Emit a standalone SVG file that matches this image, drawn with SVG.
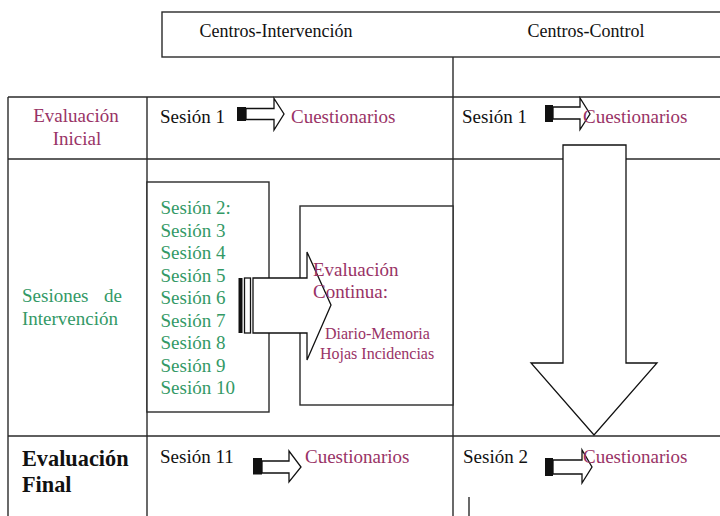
<svg xmlns="http://www.w3.org/2000/svg" width="720" height="516" viewBox="0 0 720 516" font-family="'Liberation Serif', 'Times New Roman', 'DejaVu Serif', serif">
<style>
.ln{fill:none;stroke:#2a2a2a;stroke-width:1.4}
.box{fill:#fff;stroke:#2a2a2a;stroke-width:1.4}
.arr{fill:#fff;stroke:#111;stroke-width:1.3;stroke-linejoin:miter}
.blk{fill:#111}
text{font-family:'Liberation Serif','Times New Roman','DejaVu Serif',serif;font-size:19px}
.k{fill:#111}
.p{fill:#993366}
.g{fill:#339966}
.b{font-weight:bold;font-size:22.3px;fill:#111}
.s{font-size:16px}
.h{font-size:18px;fill:#111}
</style>
<rect width="720" height="516" fill="#fff"/>

<g id="header">
<rect class="box" x="162" y="12" width="570" height="45"/>
<text class="h" x="199.5" y="36.5">Centros-Intervención</text>
<text class="h" x="527.5" y="36.5">Centros-Control</text>
</g>

<g id="table">
<line class="ln" x1="453" y1="57" x2="453" y2="516"/>
<line class="ln" x1="8" y1="97" x2="730" y2="97"/>
<line class="ln" x1="8" y1="159" x2="730" y2="159"/>
<line class="ln" x1="8" y1="436" x2="730" y2="436"/>
<line class="ln" x1="8" y1="97" x2="8" y2="516"/>
<line class="ln" x1="147" y1="97" x2="147" y2="516"/>
<line class="ln" x1="469" y1="497" x2="469" y2="516"/>
</g>

<g id="row-inicial-label">
<text class="p" x="76" y="122" text-anchor="middle">Evaluación</text>
<text class="p" x="77" y="145" text-anchor="middle">Inicial</text>
</g>

<g id="row-sesiones-label">
<text class="g" x="22" y="302">Sesiones</text>
<text class="g" x="122" y="302" text-anchor="end">de</text>
<text class="g" x="22" y="325">Intervención</text>
</g>

<g id="row-final-label">
<text class="b" x="22" y="466">Evaluación</text>
<text class="b" x="22" y="492">Final</text>
</g>

<g id="sessions-box">
<rect class="box" x="147" y="182" width="122" height="230"/>
<text class="g" x="160.5" y="214">Sesión 2:</text>
<text class="g" x="160.5" y="236.5">Sesión 3</text>
<text class="g" x="160.5" y="259">Sesión 4</text>
<text class="g" x="160.5" y="281.5">Sesión 5</text>
<text class="g" x="160.5" y="304">Sesión 6</text>
<text class="g" x="160.5" y="326.5">Sesión 7</text>
<text class="g" x="160.5" y="349">Sesión 8</text>
<text class="g" x="160.5" y="371.5">Sesión 9</text>
<text class="g" x="160.5" y="394">Sesión 10</text>
</g>

<g id="continua-box">
<rect class="box" x="300" y="206" width="153" height="199"/>
</g>

<g id="connectors">
<rect class="blk" x="238.5" y="278" width="4" height="55"/>
<rect class="arr" x="244.5" y="278" width="6" height="55"/>
<polygon class="arr" points="253,278 307,278 307,252 331,305 307,360 307,333 253,333"/>
<polygon class="arr" points="563,145 626,145 626,363 657,363 594,435 531,363 563,363"/>
<rect class="blk" x="237" y="107" width="9" height="14"/>
<polygon class="arr" points="246,108.5 274,108.5 274,98.5 284,114 274,130 274,119.5 246,119.5"/>
<rect class="blk" x="545" y="105" width="8" height="17"/>
<polygon class="arr" points="553,107 580,107 580,98 590,114 580,129.5 580,119 553,119"/>
<rect class="blk" x="253" y="458" width="9" height="16.5"/>
<polygon class="arr" points="262,461 289,461 289,451 301,467 289,482 289,473 262,473"/>
<rect class="blk" x="545" y="458" width="8" height="18"/>
<polygon class="arr" points="553,460 582,460 582,450 592,467 582,483 582,474 553,474"/>
</g>

<g id="continua-text">
<text class="p" x="313" y="276">Evaluación</text>
<text class="p" x="313" y="298">Continua:</text>
<text class="p s" x="325" y="339">Diario-Memoria</text>
<text class="p s" x="320" y="359">Hojas Incidencias</text>
</g>

<g id="cell-int-inicial">
<text class="k" x="160" y="123">Sesión 1</text>
<text class="p" x="291" y="123">Cuestionarios</text>
</g>
<g id="cell-ctl-inicial">
<text class="k" x="462" y="123">Sesión 1</text>
<text class="p" x="583" y="123">Cuestionarios</text>
</g>
<g id="cell-int-final">
<text class="k" x="160" y="463">Sesión 11</text>
<text class="p" x="305" y="463">Cuestionarios</text>
</g>
<g id="cell-ctl-final">
<text class="k" x="463" y="463">Sesión 2</text>
<text class="p" x="583" y="463">Cuestionarios</text>
</g>
</svg>
